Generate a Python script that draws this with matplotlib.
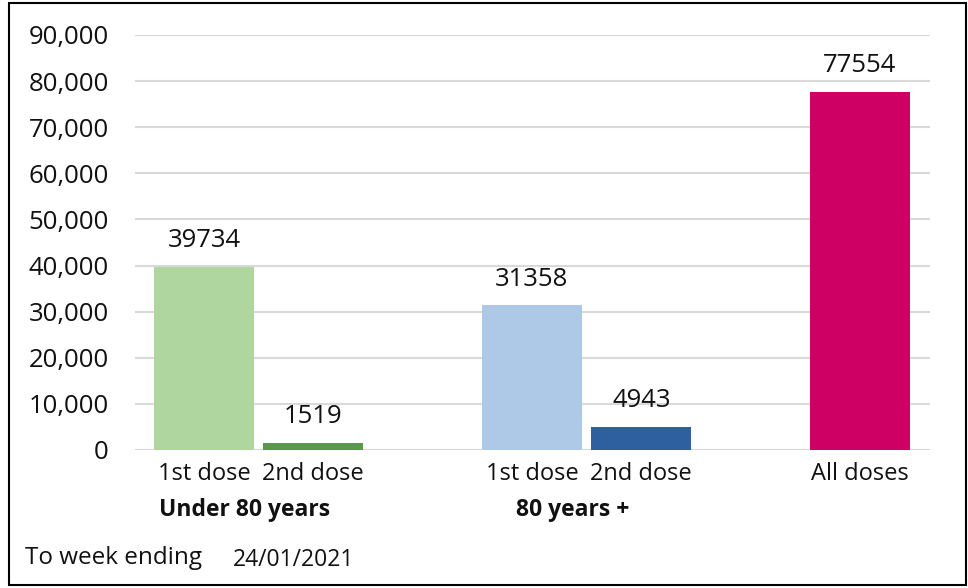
import matplotlib as mpl
mpl.use('Agg')

from matplotlib import pyplot as plt
from matplotlib.patches import Rectangle
from matplotlib.ticker import FuncFormatter

# data
dose_labels = ['1st dose', '2nd dose', '1st dose', '2nd dose', 'All doses']
values = [39734, 1519, 31358, 4943, 77554]
colors = ['#b0d6a0', '#5b9a42', '#aec8e8', '#2e5f9e', '#cf0063']
groups = ['Under 80 years', '80 years +']
footer = 'To week ending'
week_date = '24/01/2021'

plt.rcParams['font.family'] = ['Open Sans', 'DejaVu Sans']
fs = 18.5

# x positions (slots), groups separated by an empty slot
xpos = [0, 1, 3, 4, 6]
group_x = [0.37, 3.37]

fig = plt.figure(figsize=(9.68, 5.88), dpi=100)
ax = fig.add_axes([0.1395, 0.2347, 0.8212, 0.7058])

ax.bar(xpos, values, width=0.915, color=colors, zorder=3)
for x, v in zip(xpos, values):
    ax.annotate(str(v), (x, v), xytext=(0, 10), textcoords='offset points',
                ha='center', va='bottom', fontsize=fs, color='#111111')

ax.set_xlim(-0.63, 6.64)
ax.set_ylim(0, 90000)
ax.set_yticks(range(0, 90001, 10000))
ax.yaxis.set_major_formatter(FuncFormatter(lambda v, p: f'{int(v):,}'))
ax.grid(axis='y', color='#d9d9d9', linewidth=1.5, zorder=0)

ax.set_xticks(xpos)
ax.set_xticklabels(dose_labels)
ax.tick_params(axis='both', length=0, colors='#111111')
ax.tick_params(axis='y', pad=19, labelsize=fs)
ax.tick_params(axis='x', pad=9, labelsize=17)
for s in ax.spines.values():
    s.set_visible(False)

# group labels under the dose labels
for gx, g in zip(group_x, groups):
    ax.text(gx, -0.145, g, transform=ax.get_xaxis_transform(), ha='center',
            va='center', fontsize=16.5, fontweight='bold', color='#111111')

fig.text(25 / 968, 1 - 558 / 588, footer, ha='left', va='center', fontsize=17.5, color='#111111')
fig.text(233 / 968, 1 - 560 / 588, week_date, ha='left', va='center', fontsize=16.5, color='#111111')

# outer border
fig.patches.append(Rectangle((9 / 968, 3 / 588), 957 / 968, 582 / 588, transform=fig.transFigure,
                             fill=False, edgecolor='black', linewidth=1.5))

plt.savefig('out.png')
plt.close()
